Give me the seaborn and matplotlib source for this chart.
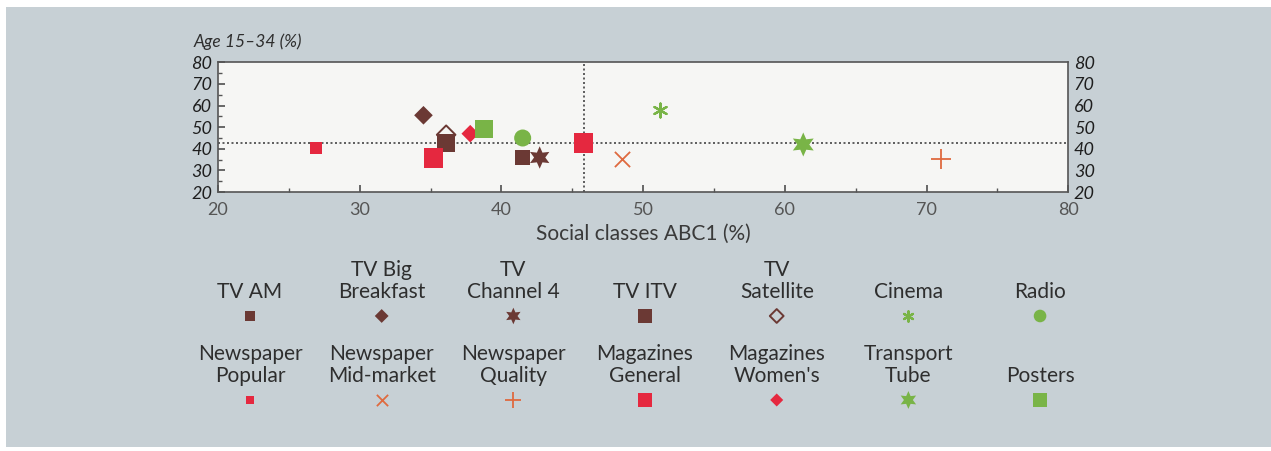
import matplotlib
matplotlib.use("Agg")
import matplotlib.pyplot as plt
import seaborn as sns
from matplotlib.patches import Rectangle

sns.set_theme(style="white")
plt.rcParams["font.family"] = ["Lato", "DejaVu Sans"]

# Media audience profiles: share of ABC1 social classes vs share aged 15-34
media = ["TV AM", "TV Big\nBreakfast", "TV\nChannel 4", "TV ITV", "TV\nSatellite", "Cinema", "Radio",
         "Newspaper\nPopular", "Newspaper\nMid-market", "Newspaper\nQuality", "Magazines\nGeneral",
         "Magazines\nWomen's", "Transport\nTube", "Posters"]
abc1 = [41.5, 34.5, 42.7, 36.1, 36.1, 51.2, 41.5, 26.9, 48.5, 71.0, 35.2, 37.8, 61.3, 38.8]
age15_34 = [36.0, 55.5, 36.0, 42.5, 46.5, 58.0, 45.0, 40.5, 35.5, 35.5, 35.8, 47.0, 42.0, 49.0]

# Population average (crosshair)
avg_abc1 = [45.8]
avg_age = [42.8]

BROWN = "#6b3934"
RED = "#e5283f"
ORANGE = "#df6a3f"
GREEN = "#79b447"
TEXT = "#2e2e2e"

star6 = (6, 1, 0)
aster = (6, 2, 0)
styles = [
    dict(marker="s", s=110, color=BROWN),
    dict(marker="D", s=90, color=BROWN),
    dict(marker=star6, s=260, color=BROWN),
    dict(marker="s", s=170, color=BROWN),
    dict(marker="D", s=90, facecolor="none", edgecolor=BROWN, linewidth=1.4),
    dict(marker=aster, s=100, color=GREEN, linewidth=1.6),
    dict(marker="o", s=150, color=GREEN),
    dict(marker="s", s=70, color=RED),
    dict(marker="x", s=120, color=ORANGE, linewidth=1.3),
    dict(marker="+", s=220, color=ORANGE, linewidth=1.3),
    dict(marker="s", s=200, color=RED),
    dict(marker="D", s=80, color=RED),
    dict(marker=star6, s=300, color=GREEN),
    dict(marker="s", s=170, color=GREEN),
]

BG = "#c7d0d5"
fig = plt.figure(figsize=(12.71, 4.51), dpi=100, facecolor="white")
fig.patches.append(Rectangle((0.0047, 0.009), 1.0, 0.9755, transform=fig.transFigure,
                             facecolor=BG, edgecolor="none", zorder=-10))

ax = fig.add_axes([0.1715, 0.574, 0.669, 0.288])
ax.set_facecolor("#f6f6f4")
ax.axvline(avg_abc1[0], color="#444444", lw=1.2, ls=(0, (1.2, 1.5)), zorder=1)
ax.axhline(avg_age[0], color="#444444", lw=1.2, ls=(0, (1.2, 1.5)), zorder=1)


def style_kw(st, scale=1.0):
    kw = dict(st)
    kw["s"] = kw["s"] * scale
    if "color" in kw and kw["marker"] not in ("x", "+", aster):
        kw["edgecolor"] = "none"
    return kw


for xv, yv, st in zip(abc1, age15_34, styles):
    sns.scatterplot(x=[xv], y=[yv], ax=ax, legend=False, zorder=3, **style_kw(st))
sns.scatterplot(x=avg_abc1, y=avg_age, ax=ax, marker="s", s=200, color=RED,
                edgecolor="none", legend=False, zorder=3)

ax.set_xlim(20, 80)
ax.set_ylim(20, 80)
ax.set_xticks(range(20, 81, 10))
ax.set_xticks(range(25, 80, 10), minor=True)
ax.set_yticks(range(20, 81, 10))
ax.set_yticks(range(25, 80, 10), minor=True)
for sp in ax.spines.values():
    sp.set_color("#555555")
    sp.set_linewidth(1.2)
ax.tick_params(axis="x", which="both", direction="in", length=5, color="#555555",
               bottom=True, labelsize=13, labelcolor="#555555", pad=7)
ax.tick_params(axis="y", which="both", direction="in", length=5, color="#555555",
               left=True, labelsize=13, labelcolor="#1e1e1e", pad=4)
ax.tick_params(axis="y", which="minor", length=3)
ax.tick_params(axis="x", which="minor", length=3)
ax.tick_params(axis="y", labelright=True, right=False, which="major")
for lab in ax.get_yticklabels():
    lab.set_fontstyle("italic")
ax.set_xlabel("Social classes ABC1 (%)", fontsize=15, color="#3a3a3a", labelpad=4)
ax.set_ylabel("")
fig.text(0.152, 0.89, "Age 15\u201334 (%)", fontsize=12.5, color=TEXT,
         fontstyle="italic", ha="left", va="bottom")

# Key: two rows of seven, label above marker
lg = fig.add_axes([0.1449, 0.02, 0.7252, 0.3725])
lg.set_xlim(-0.5, 6.5)
lg.set_ylim(0, 2)
lg.axis("off")
for i, (name, st) in enumerate(zip(media, styles)):
    col, row = i % 7, i // 7
    ym = 1.5 if row == 0 else 0.5
    lg.scatter([col], [ym], **style_kw(st, 0.55))
    lg.text(col, ym + 0.17, name, ha="center", va="bottom", fontsize=15,
            color=TEXT, linespacing=1.1)

fig.savefig("out.png", dpi=100, facecolor="white")
